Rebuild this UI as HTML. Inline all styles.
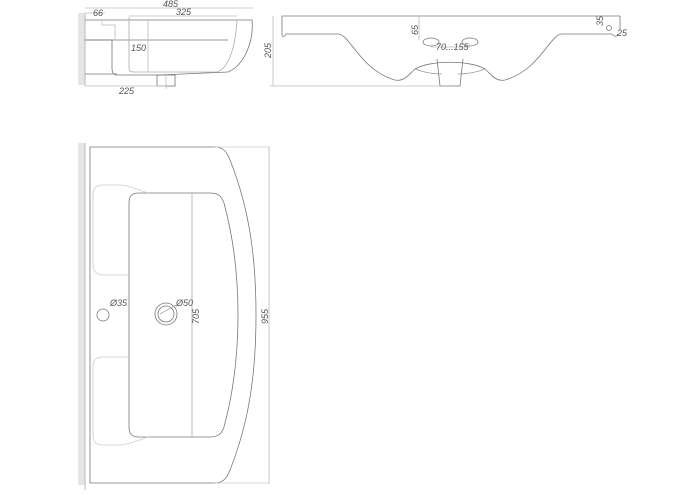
<!DOCTYPE html>
<html><head><meta charset="utf-8"><style>
html,body{margin:0;padding:0;background:#fff;}
svg{display:block}
text{font-family:"Liberation Sans",sans-serif;font-style:italic;fill:#555;font-size:9px}
</style></head><body>
<svg width="700" height="500" viewBox="0 0 700 500" xmlns="http://www.w3.org/2000/svg">
<g fill="none" stroke="#777" stroke-width="0.8">
<!-- top-left view -->
<rect x="78" y="13" width="7" height="72" fill="#e6e6e6" stroke="none"/>
<line x1="85" y1="13" x2="85" y2="86" stroke="#aaa"/>
<line x1="85" y1="8" x2="253" y2="8" stroke="#bbb"/>
<line x1="85" y1="13" x2="105" y2="13" stroke="#bbb"/>
<line x1="129" y1="16" x2="237" y2="16" stroke="#bbb"/>
<path d="M85 20 H252 C254 40 245 65 228 72 L160 75 H117 C113 75 112 72 112 68 V40 H85"/>
<line x1="85" y1="40" x2="228" y2="40"/>
<line x1="85" y1="74" x2="117" y2="74"/>
<path d="M129 17 V68 C129 72 132 72 135 72 H215 C225 72 235 55 237 20" stroke="#aaa"/>
<path d="M102 20 V25 H115 V40" stroke="#bbb"/>
<rect x="157" y="75" width="18" height="11"/>
<line x1="148" y1="20" x2="148" y2="72" stroke="#bbb"/>
<line x1="85" y1="86" x2="166" y2="86" stroke="#bbb"/>
<line x1="166" y1="76" x2="166" y2="89" stroke="#bbb"/>
<!-- side view -->
<line x1="282" y1="16" x2="620" y2="16"/>
<path d="M282 16 V35 C283 38 285 36 286 34 L338 34 C350 34 360 70 395 80 C405 82 410 73 415 69 C430 60 470 60 485 69 C490 73 495 82 505 80 C540 70 550 34 562 34 L612 34 C614 36 616 38 618 34"/>
<line x1="620" y1="16" x2="620" y2="30"/>
<path d="M437 59 L440 86 H460 L463 59"/>
<path d="M415 69 C428 74 438 74 442 74 M485 69 C472 74 462 74 458 74" stroke="#999"/>
<ellipse cx="431" cy="42" rx="8" ry="4"/>
<ellipse cx="470" cy="42" rx="8" ry="4"/>
<line x1="273" y1="16" x2="273" y2="86" stroke="#bbb"/>
<line x1="270" y1="86" x2="440" y2="86" stroke="#bbb"/>
<line x1="419" y1="16" x2="419" y2="40" stroke="#bbb"/>
<line x1="431" y1="47" x2="470" y2="47" stroke="#bbb"/>
<circle cx="609" cy="28" r="2.5"/>
<!-- plan view -->
<rect x="78" y="143" width="7" height="342" fill="#e6e6e6" stroke="none"/>
<line x1="85" y1="143" x2="85" y2="490" stroke="#aaa"/>
<path d="M90 147 H215 C225 147 228 155 230 160 C250 210 256 260 256 315 C256 370 250 420 230 470 C228 475 225 483 215 483 H90 Z"/>
<line x1="215" y1="147" x2="270" y2="147" stroke="#ccc"/>
<line x1="215" y1="483" x2="270" y2="483" stroke="#ccc"/>
<line x1="269" y1="147" x2="269" y2="483" stroke="#bbb"/>
<path d="M139 193 H210 C220 193 222 198 224 203 C234 240 238 280 238 315 C238 350 234 390 224 427 C222 432 220 437 210 437 H139 C132 437 129 434 129 427 V203 C129 196 132 193 139 193 Z"/>
<line x1="192" y1="193" x2="192" y2="437" stroke="#aaa"/>
<path d="M129 275 H103 C96 275 93 270 93 265 V195 C93 188 96 185 103 185 H120 C126 185 140 190 148 193" stroke="#ccc"/>
<path d="M129 357 H103 C96 357 93 360 93 367 V435 C93 442 96 445 103 445 H120 C126 445 140 440 148 437" stroke="#ccc"/>
<circle cx="166" cy="314" r="11"/>
<circle cx="166" cy="314" r="8"/>
<line x1="160" y1="314" x2="176" y2="305" stroke="#aaa"/>
<circle cx="103" cy="315" r="6"/>
</g>
<text x="93" y="16">66</text>
<text x="163" y="7">485</text>
<text x="176" y="15">325</text>
<text x="131" y="51">150</text>
<text x="119" y="94">225</text>
<text transform="translate(271,58) rotate(-90)">205</text>
<text transform="translate(418,35) rotate(-90)">65</text>
<text x="436" y="50">70...155</text>
<text transform="translate(603,26) rotate(-90)">35</text>
<text x="617" y="36">25</text>
<text x="110" y="306">Ø35</text>
<text x="176" y="306">Ø50</text>
<text transform="translate(199,324) rotate(-90)">705</text>
<text transform="translate(268,324) rotate(-90)">955</text>
</svg>
</body></html>
